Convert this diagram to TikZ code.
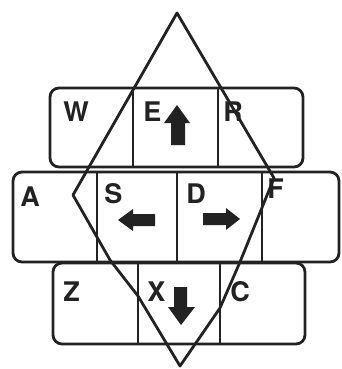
\documentclass[tikz,border=0pt]{standalone}
\usepackage{fontspec}
\setmainfont{TeX Gyre Heros}
\definecolor{ink}{HTML}{222222}
\begin{document}
\begin{tikzpicture}[x=1pt,y=-1pt,line width=2.8pt,
  keyrow/.style={draw=ink,rounded corners=9pt},
  divider/.style={draw=ink},
  keylabel/.style={anchor=north west,inner sep=0pt,text=ink,font=\fontsize{27}{27}\selectfont\bfseries},
  arrowshape/.style={fill=ink,draw=none}]
\useasboundingbox (0,0) rectangle (341,369);
\fill[white] (0,0) rectangle (341,369);
% top row
\draw[keyrow] (50,88) rectangle (303,167);
\draw[divider] (133,88) -- (133,167);
\draw[divider] (218,88) -- (218,167);
% middle row
\draw[keyrow] (13,172) rectangle (339,262);
\draw[divider] (97,172) -- (97,262);
\draw[divider] (177,172) -- (177,262);
\draw[divider] (262,172) -- (262,262);
% bottom row
\draw[keyrow] (53,263) rectangle (305,344);
\draw[divider] (138,263) -- (138,344);
\draw[divider] (220,263) -- (220,344);
% labels
\node[keylabel] (w) at (62,100) {W};
\node[keylabel] (e) at (142,100) {E};
\node[keylabel] (r) at (222,100) {R};
\node[keylabel] (a) at (19,185) {A};
\node[keylabel] (s) at (103,182) {S};
\node[keylabel] (d) at (185,182) {D};
\node[keylabel] (f) at (266,177) {F};
\node[keylabel] (z) at (62,280) {Z};
\node[keylabel] (x) at (146,280) {X};
\node[keylabel] (c) at (229,280) {C};
% diamond
\draw[draw=ink,line join=round] (177,13) -- (73,195) -- (110,260) -- (138,296) -- (180,366) -- (220,308) -- (240,262) -- (274,178) -- cycle;
% arrows
\fill[arrowshape] (177,105) -- (190,123) -- (185,123) -- (185,145) -- (171,145) -- (171,123) -- (164,123) -- cycle;
\fill[arrowshape] (118,220) -- (133,209) -- (133,214) -- (155,214) -- (155,226) -- (133,226) -- (133,231) -- cycle;
\fill[arrowshape] (240,219) -- (226,208) -- (226,213) -- (203,213) -- (203,225) -- (226,225) -- (226,230) -- cycle;
\fill[arrowshape] (181,325) -- (195,307) -- (187,307) -- (187,287) -- (174,287) -- (174,307) -- (168,307) -- cycle;
\end{tikzpicture}
\end{document}
